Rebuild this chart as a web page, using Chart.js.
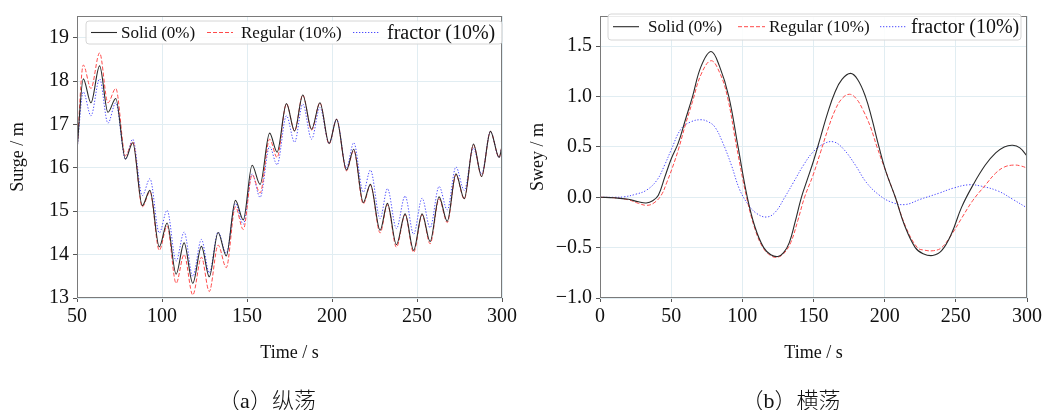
<!DOCTYPE html>
<html><head><meta charset="utf-8">
<script src="https://cdn.jsdelivr.net/npm/chart.js@4.4.0/dist/chart.umd.min.js"></script>
<style>
html,body{margin:0;padding:0;background:#fff;}
#wrap{position:relative;width:1046px;height:410px;overflow:hidden;background:#fff;}
#c1{position:absolute;left:0;top:0;width:520px;height:410px;}
#c2{position:absolute;left:520px;top:0;width:526px;height:410px;}
.cap{position:absolute;top:385px;line-height:26px;font-family:"Liberation Serif","Noto Sans CJK SC",serif;font-size:22px;color:#111;white-space:nowrap;transform:translateX(-50%);}
.cap .cjk{font-family:"Noto Sans CJK SC",sans-serif;font-weight:300;}
</style></head><body>
<div id="wrap">
<canvas id="c1" width="520" height="410"></canvas>
<canvas id="c2" width="526" height="410"></canvas>
<div class="cap" style="left:267px"><span class="cjk">（</span>a<span class="cjk">）纵荡</span></div>
<div class="cap" style="left:791px"><span class="cjk">（</span>b<span class="cjk">）横荡</span></div>
</div>
<script>
// ---------- DATA ----------
const seriesNames = ['Solid (0%)', 'Regular (10%)', 'fractor (10%)'];

// (a) Surge, time in s
const surgeTime = [50,53.7,58.2,63.3,68.2,72.8,78.5,82.8,88.4,92.9,98.4,103,108.3,113,118.1,123.2,127.8,133,137.8,143.2,147.8,153,157.7,163.3,167.7,173.2,178,182.8,188,192.9,198.3,202.7,208.5,212.8,218.4,222.6,228.3,232.6,237.9,243,248,253,257.7,263,267.8,272.9,277.8,283.2,288,293.2,298.3,300];
const surgeSolid = [16.4,18.05,17.5,18.35,17.28,17.6,16.2,16.58,15.13,15.48,14.18,14.73,13.55,14.27,13.34,14.19,13.49,14.51,13.97,15.25,14.8,16.06,15.62,16.8,16.36,17.48,16.85,17.68,16.89,17.5,16.56,17.12,15.95,16.43,15.2,15.62,14.56,15.18,14.23,14.94,14.1,14.94,14.3,15.33,14.77,15.86,15.29,16.55,15.8,16.84,16.24,16.5];
const surgeRegular = [16.4,18.37,17.83,18.65,17.5,17.83,16.28,16.6,15.1,15.45,14.1,14.66,13.34,14.0,13.07,13.94,13.15,14.22,13.7,15.1,14.58,15.84,15.42,16.66,16.24,17.48,16.85,17.68,16.87,17.5,16.55,17.12,15.93,16.4,15.17,15.6,14.5,15.15,14.17,14.92,14.05,14.92,14.25,15.28,14.74,15.84,15.28,16.53,15.8,16.84,16.24,16.5];
const surgeFractor = [16.4,17.75,17.2,18.05,17.03,17.5,16.2,16.66,15.36,15.75,14.5,15.02,13.85,14.52,13.5,14.35,13.58,14.52,14.03,15.18,14.7,15.86,15.32,16.49,16.07,17.2,16.59,17.47,16.66,17.39,16.56,17.12,16.0,16.58,15.44,15.95,14.83,15.52,14.6,15.35,14.47,15.3,14.62,15.57,15.03,16.02,15.48,16.45,15.86,16.84,16.24,16.5];

// (b) Sway, time in s
const swayTimeSolid = [0,10,20,27,32.5,37,41,45.5,50,55,60,65,71,78,84,90.5,97,103.5,109,115,120,125,129,133,137,141.5,145.5,150,155,160,165,170,176,181,186.5,191,196,201,207.5,214,221.5,227,233.7,240,247,254,262,270.7,278,284,290,295,300];
const swaySolid = [0,-0.005,-0.02,-0.045,-0.056,-0.035,0.02,0.2,0.38,0.54,0.77,1.0,1.3,1.448,1.3,1.0,0.5,0.0,-0.3,-0.5,-0.57,-0.588,-0.55,-0.45,-0.25,0,0.17,0.36,0.6,0.84,1.04,1.17,1.23,1.17,1.0,0.78,0.5,0.25,0,-0.28,-0.5,-0.56,-0.578,-0.53,-0.36,-0.1,0.12,0.32,0.44,0.5,0.517,0.49,0.41];
const swayTimeRegular = [0,10,20,27,33,38,43,47,51,55,60,65,71,78,84,89.5,96,103,109,114.5,120,124.5,129,134,139,143.7,149.7,155,160,165,170,175.2,180,185,190,194.6,201,207.5,215,223,228,234.4,240,247,254.4,262,270.7,278,284,290.7,296,300];
const swayRegular = [0,-0.005,-0.025,-0.06,-0.08,-0.055,0.02,0.15,0.3,0.47,0.72,0.95,1.22,1.356,1.24,1.0,0.5,0,-0.32,-0.5,-0.58,-0.595,-0.56,-0.45,-0.23,0,0.22,0.45,0.67,0.86,0.98,1.023,0.98,0.86,0.7,0.5,0.25,0,-0.3,-0.5,-0.525,-0.53,-0.5,-0.37,-0.2,-0.03,0.12,0.24,0.3,0.32,0.31,0.29];
const swayTimeFractor = [0,10,17,25,32.6,40,45.4,50,57,64,71,76,80.6,86,92.3,98,104,110,117,123,129.8,136,143,149.7,157,164.2,171,179.4,187,195.8,205,214.5,225,238,248,259,268,280,290,300];
const swayFractor = [0,0,0.005,0.03,0.07,0.17,0.32,0.47,0.68,0.75,0.77,0.75,0.7,0.55,0.32,0.08,-0.07,-0.16,-0.196,-0.15,0,0.15,0.32,0.45,0.53,0.55,0.48,0.32,0.15,0.026,-0.05,-0.072,-0.02,0.04,0.09,0.124,0.11,0.06,-0.02,-0.105];

// axis ticks
const surgeXTicks = [50,100,150,200,250,300];
const surgeYTicks = [13,14,15,16,17,18,19];
const swayXTicks = [0,50,100,150,200,250,300];
const swayYTicks = [-1.0,-0.5,0.0,0.5,1.0,1.5];

// ---------- STYLE ----------
const SERIF = '"Liberation Serif", "Times New Roman", serif';
const GRID = '#e1edf2';
const styles = [
  {borderColor:'#2a2a2a', borderWidth:1.1, borderDash:[]},
  {borderColor:'#ff4a4a', borderWidth:1, borderDash:[4,2]},
  {borderColor:'#4a4aff', borderWidth:1, borderDash:[1.3,1.7]}
];

function pts(xs, ys){ return xs.map((x,i)=>({x:x, y:ys[i]})); }
function mkDatasets(list, smooth){
  return list.map((d,i)=>Object.assign({
    label: seriesNames[i], data: pts(d[0], d[1]),
    pointRadius:0, fill:false
  }, smooth === 'monotone' ? {cubicInterpolationMode:'monotone'} : {tension:0.4}, styles[i]));
}

const framePlugin = {
  id:'frame',
  afterDraw(chart){
    const a = chart.chartArea, ctx = chart.ctx;
    ctx.save(); ctx.strokeStyle = '#7a7a7a'; ctx.lineWidth = 1;
    ctx.strokeRect(Math.round(a.left)+0.5, Math.round(a.top)+0.5, Math.round(a.right-a.left)-1, Math.round(a.bottom-a.top)-1);
    ctx.restore();
  }
};
const legendPlugin = {
  id:'boxLegend',
  afterDraw(chart, args, o){
    const ctx = chart.ctx; ctx.save();
    const r = 3, x = o.box[0], y = o.box[1], w = o.box[2], h = o.box[3];
    ctx.beginPath();
    ctx.moveTo(x+r,y); ctx.lineTo(x+w-r,y); ctx.quadraticCurveTo(x+w,y,x+w,y+r);
    ctx.lineTo(x+w,y+h-r); ctx.quadraticCurveTo(x+w,y+h,x+w-r,y+h);
    ctx.lineTo(x+r,y+h); ctx.quadraticCurveTo(x,y+h,x,y+h-r);
    ctx.lineTo(x,y+r); ctx.quadraticCurveTo(x,y,x+r,y); ctx.closePath();
    ctx.fillStyle = 'rgba(255,255,255,0.85)'; ctx.fill();
    ctx.strokeStyle = '#d6d6d6'; ctx.lineWidth = 1; ctx.stroke();
    chart.data.datasets.forEach((ds,i)=>{
      const it = o.items[i];
      ctx.strokeStyle = ds.borderColor; ctx.lineWidth = ds.borderWidth;
      ctx.setLineDash(ds.borderDash || []);
      ctx.beginPath(); ctx.moveTo(it[0], o.ly); ctx.lineTo(it[1], o.ly); ctx.stroke();
      ctx.setLineDash([]);
      ctx.font = it[3] + 'px ' + SERIF; ctx.fillStyle = '#111';
      ctx.textBaseline = 'middle'; ctx.textAlign = 'left';
      ctx.fillText(ds.label, it[2], o.ly + 1);
    });
    ctx.restore();
  }
};

function makeChart(id, cfg){
  return new Chart(document.getElementById(id), {
    type:'line',
    data:{datasets: mkDatasets(cfg.series, cfg.smooth)},
    options:{
      responsive:false, animation:false, devicePixelRatio:1,
      layout:{padding:cfg.pad},
      plugins:{legend:{display:false}, tooltip:{enabled:false}, boxLegend:cfg.legend},
      scales:{
        x:{type:'linear', min:cfg.xr[0], max:cfg.xr[1],
           afterBuildTicks(s){ s.ticks = cfg.xt.map(v=>({value:v})); },
           ticks:{font:{family:SERIF,size:20}, color:'#111', padding:3, maxRotation:0},
           grid:{color:GRID, tickColor:'#555', tickLength:4, lineWidth:1},
           border:{display:false},
           title:{display:true, text:'Time / s', font:{family:SERIF,size:18}, color:'#111', padding:{top:0,bottom:0}},
           afterFit(s){ s.height = 66; }},
        y:{type:'linear', min:cfg.yr[0], max:cfg.yr[1],
           afterBuildTicks(s){ s.ticks = cfg.yt.map(v=>({value:v})); },
           ticks:{font:{family:SERIF,size:20}, color:'#111', padding:4, callback:cfg.fmt},
           grid:{color:GRID, tickColor:'#555', tickLength:4, lineWidth:1},
           border:{display:false},
           title:{display:true, text:cfg.ytitle, font:{family:SERIF,size:18}, color:'#111', padding:{top:7,bottom:0}},
           afterFit(s){ s.width = cfg.yw; }}
      }
    },
    plugins:[framePlugin, legendPlugin]
  });
}

makeChart('c1', {
  series:[[surgeTime,surgeSolid],[surgeTime,surgeRegular],[surgeTime,surgeFractor]],
  smooth:'monotone',
  pad:{left:0,right:12,top:14,bottom:46},
  xr:[50,300], yr:[13,19.5], xt:surgeXTicks, yt:surgeYTicks, yw:77,
  ytitle:'Surge / m', fmt:(v)=>String(v),
  legend:{box:[86,21,416,23], ly:32.5, items:[[91,117,121,17],[207,233,241,17],[353,380,387,20]]}
});
makeChart('c2', {
  series:[[swayTimeSolid,swaySolid],[swayTimeRegular,swayRegular],[swayTimeFractor,swayFractor]],
  smooth:'spline',
  pad:{left:0,right:19,top:12,bottom:46},
  xr:[0,300], yr:[-1.0,1.8], xt:swayXTicks, yt:swayYTicks, yw:80,
  ytitle:'Swey / m', fmt:(v)=>v.toFixed(1).replace('-','\u2212'),
  legend:{box:[88,14,413,26], ly:26.7, items:[[93,119,128,17],[218,245,249,17],[360,387,391,20]]}
});
</script>
</body></html>
